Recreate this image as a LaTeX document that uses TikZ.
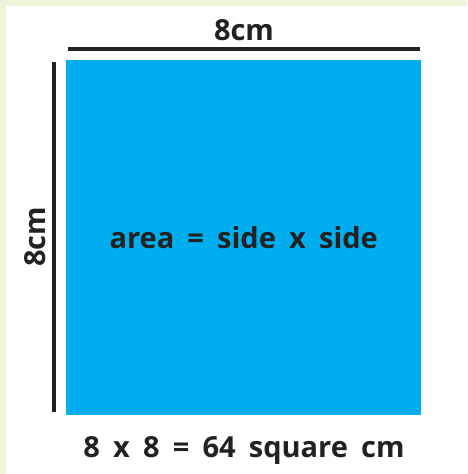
\documentclass[tikz,border=0pt]{standalone}
\usepackage{fontspec}
\setmainfont[WordSpace=1.75]{Open Sans}
\usetikzlibrary{positioning}
\definecolor{sqblue}{HTML}{00AEEF}
\definecolor{framegreen}{HTML}{EAF5DA}
\definecolor{ink}{HTML}{222222}

\begin{document}
\begin{tikzpicture}[x=1pt, y=-1pt,
  txt/.style={font=\bfseries\fontsize{29}{33}\selectfont, text=ink, inner sep=0pt},
  dimline/.style={draw=ink, line width=4pt}]
  % page with the green edge
  \fill[framegreen] (0,0) rectangle (467,474);
  \fill[white] (6,6) rectangle (467,474);
  \useasboundingbox (0,0) rectangle (467,474);

  \node[fill=sqblue, minimum width=355pt, minimum height=355pt, inner sep=0pt,
        anchor=north west] (sq) at (66,60) {};
  \node[txt] (area) at (sq.center) {area = side x side};

  % dimension lines
  \coordinate (t1) at ([xshift=2pt, yshift=11pt]sq.north west);
  \coordinate (t2) at ([xshift=-1pt, yshift=11pt]sq.north east);
  \coordinate (l1) at ([xshift=-12pt, yshift=-2pt]sq.north west);
  \coordinate (l2) at ([xshift=-12pt, yshift=3pt]sq.south west);
  \draw[dimline] (t1) -- (t2);
  \draw[dimline] (l1) -- (l2);

  \node[txt] (top) at (244,30) {8cm};
  \node[txt, rotate=90] (side) at (35,237) {8cm};
  \node[txt] (sum) at (244,450) {8 x 8 = 64 square cm};
\end{tikzpicture}
\end{document}
